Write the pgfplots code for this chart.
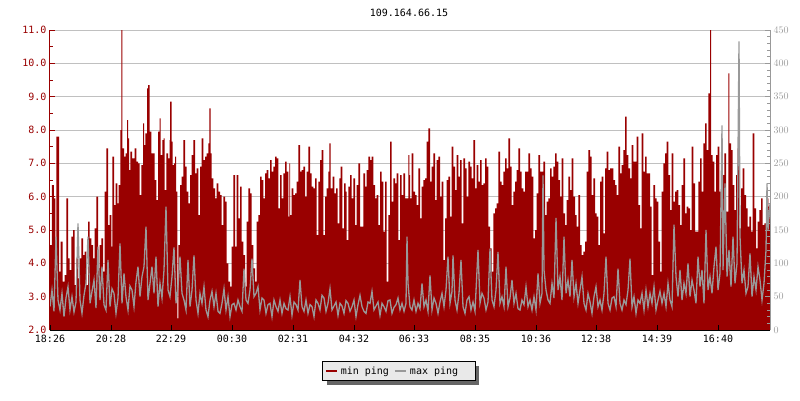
\documentclass[border=0pt]{standalone}
\usepackage{fontspec}
\setmainfont{DejaVu Sans Mono}
\usepackage{pgfplots}
\pgfplotsset{compat=1.18}
\usetikzlibrary{shadows}
\definecolor{minred}{HTML}{990000}
\definecolor{maxgray}{HTML}{999999}
\definecolor{gridgray}{HTML}{C0C0C0}
\definecolor{leggray}{HTML}{E9E9E9}
\definecolor{shadgray}{HTML}{666666}
\begin{document}
\begin{tikzpicture}[x=1pt,y=1pt]
\useasboundingbox (0,0) rectangle (800,400);
\node[font=\fontsize{10}{12}\selectfont, anchor=center] at (409,387) {109.164.66.15};
\begin{axis}[
  at={(50pt,70pt)}, anchor=south west,
  scale only axis, width=720pt, height=300pt,
  xmin=0, xmax=720, ymin=2, ymax=11,
  axis x line*=bottom, axis y line*=left,
  x axis line style={black, line width=1pt},
  y axis line style={minred, line width=1pt},
  xtick={0,61,121,182,243,304,364,425,486,546,607,668},
  xticklabels={18:26,20:28,22:29,00:30,02:31,04:32,06:33,08:35,10:36,12:38,14:39,16:40},
  ytick={2,3,4,5,6,7,8,9,10,11},
  yticklabels={2.0,3.0,4.0,5.0,6.0,7.0,8.0,9.0,10.0,11.0},
  minor y tick num=1,
  tick align=inside,
  major tick length=5pt, minor tick length=3pt,
  y tick style={minred, line width=1pt},
  x tick style={black, line width=1pt},
  tick label style={font=\fontsize{10}{12}\selectfont},
  yticklabel style={text=minred},
  xticklabel style={yshift=-2pt},
  ymajorgrids, grid style={gridgray, line width=1pt},
  legend columns=2,
  legend style={at={(axis description cs:0.4847,-0.1377)}, anchor=center,
    draw=black, line width=1pt, fill=leggray,
    drop shadow={shadow xshift=4pt, shadow yshift=-4pt, fill=shadgray, opacity=1},
    font=\fontsize{10}{12}\selectfont, inner xsep=2pt, inner ysep=3pt,
    /tikz/every odd column/.append style={column sep=1pt},
    /tikz/every even column/.append style={column sep=3pt}},
]
\addlegendimage{legend image code/.code={\pgfsetlinewidth{2pt}\pgfsetstrokecolor{minred}\pgfpathmoveto{\pgfpoint{0pt}{0pt}}\pgfpathlineto{\pgfpoint{11pt}{0pt}}\pgfusepath{stroke}}}
\addlegendentry{min ping}
\addlegendimage{legend image code/.code={\pgfsetlinewidth{2pt}\pgfsetstrokecolor{maxgray}\pgfpathmoveto{\pgfpoint{0pt}{0pt}}\pgfpathlineto{\pgfpoint{11pt}{0pt}}\pgfusepath{stroke}}}
\addlegendentry{max ping\hspace*{13pt}}
\addplot[const plot, fill=minred, draw=none, forget plot] table {
x y
0 4.55
0.7 4.55
2 6.35
4 5.95
5.3 4.55
6.3 7.8
7.3 7.8
9 3.75
10.7 4.65
12.7 3.45
14.7 3.65
16.3 5.95
18 4.15
19.7 3.8
21.3 4.8
23 5.0
24.7 3.35
26.3 4.15
28 3.55
29.7 4.15
31.3 4.75
33 4.25
34.7 4.35
36.3 3.35
38 5.25
39.7 4.75
41.3 4.55
43 4.15
44.7 5.05
46.3 6.0
48 3.85
49.7 4.55
51.3 4.75
53 3.75
54.7 6.15
56.3 7.45
58 5.15
59.7 5.45
61.3 4.5
62.3 7.2
64 5.75
65.7 6.4
67.3 5.8
68.7 6.35
70.3 8.0
71.3 11.0
72.3 7.45
74 7.2
75.7 7.3
77 8.3
78 7.75
79 6.8
80.3 7.35
82 7.15
83.7 7.15
84.7 7.45
86.3 7.05
88 7.0
89.7 6.05
91.3 6.95
93 8.2
94 7.55
95.3 7.9
97 9.25
98 9.35
99.7 7.95
101.3 7.3
103 7.3
104.7 6.5
106.3 5.9
108 7.95
109.7 8.35
110.7 7.25
112.3 7.7
113.7 7.75
114.7 6.2
116.3 7.3
118 7.15
119.7 7.7
120 8.85
121.7 7.65
122.7 6.95
124 7.0
125 7.2
126 6.15
127.3 2.35
128.3 4.55
130 6.35
131.7 6.6
133.3 7.7
135 6.9
136.7 6.15
138.3 5.8
140 6.65
141.7 7.25
143.3 7.7
145 6.7
146.7 6.85
148.3 5.45
150 6.9
151.7 7.75
153.3 7.1
155 7.2
156.7 7.3
158.3 7.6
159.3 8.65
160.7 7.3
161.7 6.55
163.3 6.25
165 5.95
166.7 6.4
168.3 6.15
170 6.05
171.7 5.15
173.3 6.0
175 5.85
176.7 4.0
178.3 3.45
180 3.3
181.7 4.5
183.3 6.65
185 4.5
186.7 6.65
188.3 5.35
190 6.3
191.7 4.65
193.3 4.25
195 3.3
196.7 5.25
198.3 6.25
200 6.1
201.7 4.55
203.3 3.85
205 3.45
206.7 5.25
208.3 5.45
210 6.6
211.7 6.5
213.3 5.95
215 6.7
216.7 6.8
218.3 6.55
220 7.1
221.7 6.75
223.3 6.9
225 7.2
226.7 7.15
228.3 5.65
230 6.65
231.7 5.95
233.3 6.7
235 7.05
236.7 6.75
238.3 5.4
239.3 7.0
240 5.45
241.7 6.25
243.3 6.05
245 6.1
246.7 6.45
248.3 7.55
250 6.75
251.7 6.8
253.3 6.9
255 6.0
256.7 6.75
258.3 7.5
260 6.7
261.7 6.3
263.3 6.25
265 6.55
266.7 4.85
268.3 6.45
270 7.1
271.7 7.4
273.3 4.85
275 6.0
276.7 6.25
278.3 6.75
279.3 7.6
280.7 6.25
282.7 6.6
284.3 6.1
286 6.25
287.7 5.2
289.3 6.55
290.7 6.9
292.3 5.05
294 6.4
295.7 6.15
296.7 4.7
298.3 6.3
300 6.65
301.7 5.95
303.3 6.55
305 5.15
306.7 6.35
308.3 7.0
310 5.1
311.7 5.1
313.3 6.7
315 6.3
316.7 6.8
318.3 7.2
320 7.1
321.7 7.2
323.3 6.35
325 5.95
326.7 6.05
328.3 5.15
330 6.75
331.7 6.45
333.3 4.95
335 6.45
336.7 3.45
338.3 5.45
340 7.65
341.7 5.85
343.3 6.55
345 6.4
346.7 6.7
348.3 4.7
350 6.65
351.7 6.05
353.3 6.7
355 5.95
356.7 5.95
358.3 7.25
359.3 6.65
360 5.95
361.7 7.3
363.3 6.15
365 6.05
366.7 5.75
368.3 6.85
370 5.35
371.7 6.3
373.3 6.5
375 6.55
376.7 7.65
378.3 8.05
380 6.45
381.7 6.9
383.3 7.3
385 5.9
386.7 7.1
388.3 7.2
390 6.0
391.7 6.45
393.3 4.1
395 5.35
396.7 6.5
398.3 6.6
400 5.4
401.7 7.5
403.3 6.9
405 6.2
406.7 7.25
408.3 6.6
410 7.1
411.7 5.2
413.3 7.15
415 6.85
416.7 6.0
418.3 7.05
420 6.9
421.7 6.55
423.3 7.7
425 6.25
426.7 6.95
428.3 6.45
430 7.1
431.7 6.35
433.3 6.4
435 7.15
436.7 6.9
438.3 5.1
440 4.45
441.7 3.75
443.3 5.5
445 5.65
446.7 5.8
448.3 7.35
450 6.45
451.7 6.35
453.3 6.75
455 7.15
456.7 6.85
458.3 7.75
460 6.9
461.7 5.75
463.3 6.15
465 6.45
466.7 6.8
468.3 7.45
470 6.75
471.7 6.25
473.3 6.15
475 6.75
476.7 6.75
478.3 7.3
480 6.85
481.7 6.6
483.3 4.75
485 5.0
486.7 6.1
488.3 7.25
490 6.75
491.7 6.75
493.3 7.05
495 5.45
496.7 5.85
498.3 5.95
500 6.85
501.7 6.6
503.3 6.9
505 7.3
506.7 7.05
508.3 6.5
510 6.0
511.7 7.15
513.3 5.5
515 5.15
516.7 5.9
518.3 6.6
520 6.2
521.7 7.15
523.3 6.0
525 5.45
526.7 5.1
528.3 6.05
530 4.55
531.7 4.25
533.3 4.35
535 4.65
536.7 6.75
538.3 7.4
540 7.2
541.7 6.05
543.3 6.55
545 5.5
546.7 5.4
548.3 4.55
550 6.45
551.7 6.6
553.3 4.9
555 6.85
556.7 7.35
558.3 6.8
560 6.85
561.7 6.85
563.3 6.5
565 6.35
566.7 6.05
568.3 7.5
570 6.7
571.7 6.95
573.3 7.4
575 8.4
576.7 7.25
578.3 6.85
580 6.55
581.7 7.55
583.3 7.05
585 7.05
586.7 7.8
588.3 5.75
590 5.05
591.7 7.9
593.3 6.75
595 7.2
596.7 6.7
598.3 6.7
600 5.7
601.7 3.65
603.3 6.35
605 5.95
606.7 5.85
608.3 4.65
610 3.75
611.7 6.15
613.3 7.0
615 7.3
616.7 7.65
618.3 6.65
620 5.6
621.7 7.3
623.3 5.85
625 6.15
626.7 6.2
628.3 5.75
630 5.15
631.7 6.35
633.3 7.15
635 5.5
636.7 5.7
638.3 5.65
640 5.0
641.7 7.5
643.3 6.4
645 4.95
646.7 4.95
648.3 6.45
650 7.15
651.7 6.15
653.3 7.6
655 8.2
656.7 7.4
658.3 9.1
660 11.0
661 7.25
662.7 7.05
664.3 6.15
666 7.25
667.7 7.5
669.3 6.15
671 5.55
672.7 6.65
674.3 7.3
676 5.55
678.3 9.7
679.3 7.6
681 7.4
682.7 6.35
684.3 5.6
686 6.65
687.7 7.45
689.3 5.05
691 6.25
692.7 6.85
694.3 6.05
696 5.65
697.7 5.1
699.3 5.4
701 4.95
702.7 7.9
704.3 5.65
706 4.45
707.7 5.25
709.3 5.6
711 5.95
712.7 5.15
714.3 5.2
716.7 5.95
718.3 5.7
720 5.5
} \closedcycle;
\end{axis}
\begin{axis}[
  at={(50pt,70pt)}, anchor=south west,
  scale only axis, width=720pt, height=300pt,
  xmin=0, xmax=720, ymin=0, ymax=450,
  axis x line*=bottom, axis y line*=right,
  x axis line style={black, line width=1pt},
  y axis line style={maxgray, line width=1pt},
  xtick={0,61,121,182,243,304,364,425,486,546,607,668},
  xticklabels={},
  ytick={0,50,100,150,200,250,300,350,400,450},
  minor y tick num=4,
  tick align=inside,
  major tick length=5pt, minor tick length=3pt,
  y tick style={maxgray, line width=1pt},
  x tick style={black, line width=1pt},
  tick label style={font=\fontsize{10}{12}\selectfont},
  yticklabel style={text=maxgray},
]
\addplot[maxgray, line width=1.3pt] table {
x y
0 35
2 60
4 28
6 140
8 45
10 30
12 55
14 20
16 48
18 65
20 30
22 50
24 27
26 42
28 160
30 45
32 25
34 52
36 70
38 140
40 40
42 58
44 75
46 33
48 125
50 45
52 95
54 38
56 30
58 105
60 35
62 62
64 55
66 25
68 48
70 130
72 40
74 85
76 50
78 30
80 66
82 60
84 35
86 72
88 95
90 50
92 80
94 95
96 155
98 45
100 70
102 95
104 55
106 110
108 35
110 70
112 48
114 90
116 185
118 60
120 50
122 80
124 124
126 40
128 65
130 110
132 55
134 45
136 30
138 105
140 35
142 60
144 112
146 45
148 25
150 55
152 40
154 65
156 30
158 20
160 45
162 58
164 35
166 55
168 28
170 25
172 40
174 62
176 30
178 50
180 20
182 38
184 40
186 30
188 45
190 35
192 28
194 92
196 45
198 40
200 60
202 107
204 50
206 55
208 65
210 30
212 48
214 45
216 25
218 38
220 40
222 20
224 45
226 35
228 28
230 45
232 25
234 40
236 32
238 30
240 50
242 22
244 42
246 38
248 30
250 75
252 35
254 28
256 45
258 25
260 38
262 35
264 20
266 45
268 40
270 30
272 52
274 48
276 28
278 40
280 62
282 30
284 36
286 42
288 22
290 40
292 36
294 25
296 44
298 40
300 28
302 35
304 45
306 20
308 38
310 52
312 35
314 28
316 25
318 42
320 40
322 58
324 30
326 36
328 42
330 22
332 40
334 35
336 28
338 44
340 45
342 25
344 34
346 38
348 48
350 30
352 40
354 28
356 40
357 140
358 70
360 35
362 30
364 45
366 28
368 40
370 32
372 70
374 35
376 45
378 28
380 82
382 30
384 48
386 40
388 25
390 42
392 55
394 35
396 60
398 110
400 40
402 58
403 112
405 45
407 30
409 55
411 105
413 35
415 25
417 45
419 50
421 30
423 42
425 28
428 120
430 40
432 55
434 48
436 30
438 42
440 122
442 45
444 35
446 60
448 117
450 40
452 50
454 35
456 95
458 35
460 48
462 75
464 40
466 55
468 32
470 30
472 45
474 38
476 65
478 35
480 45
482 30
484 50
486 30
488 85
490 40
492 55
493 232
494 90
496 60
498 45
500 40
502 70
504 48
506 168
508 60
510 80
512 45
514 140
516 55
518 75
520 50
522 105
524 50
526 70
528 40
530 60
532 80
534 40
536 30
538 55
540 42
542 25
544 50
546 65
548 35
550 45
552 30
554 55
556 110
558 40
560 30
562 48
564 50
566 35
568 92
570 40
572 30
574 45
576 38
578 60
580 107
582 35
584 50
586 25
588 45
590 40
592 55
594 30
596 60
598 35
600 55
602 40
604 65
606 30
608 45
610 58
612 40
614 55
616 35
618 70
620 45
622 35
624 158
626 80
628 50
630 90
632 45
634 70
636 55
638 100
640 50
642 75
644 60
646 40
648 110
650 65
652 90
654 40
656 150
658 60
660 80
662 55
664 95
666 125
668 60
670 85
672 307
673 90
675 220
677 80
679 120
681 65
683 140
685 70
687 100
689 433
690 140
692 70
694 90
696 55
698 65
700 115
702 50
704 80
706 60
708 95
710 75
712 45
714 70
716 120
717 220
718 150
720 190
};
\end{axis}
\end{tikzpicture}
\end{document}
